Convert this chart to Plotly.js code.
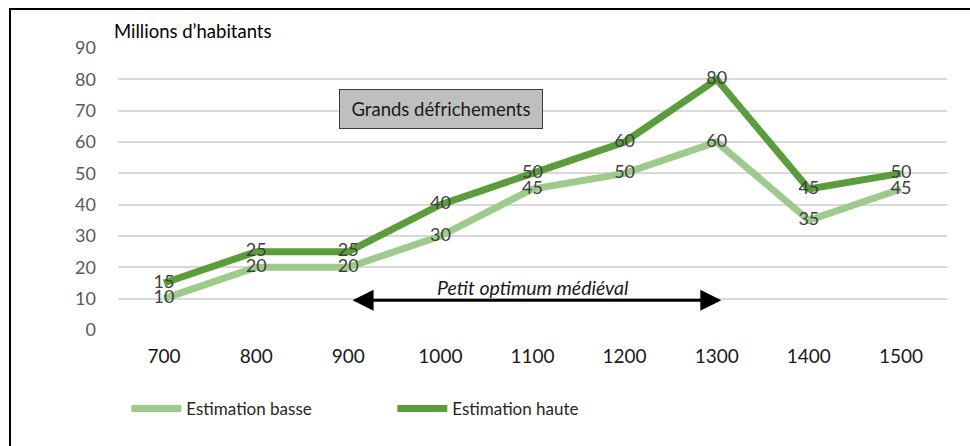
<!DOCTYPE html>
<html><head><meta charset="utf-8">
<script src="https://cdn.plot.ly/plotly-3.0.1.min.js"></script>
<style>
body{margin:0;padding:0;background:#fff;}
#wrap{position:relative;width:970px;height:446px;overflow:hidden;}
#chart{width:970px;height:446px;}
#frame{position:absolute;left:9px;top:8px;width:980px;height:460px;border-left:2px solid #000;border-top:2px solid #000;pointer-events:none;}
</style>
</head><body>
<div id="wrap"><div id="chart"></div><div id="frame"></div></div>
<script>
const years = [700, 800, 900, 1000, 1100, 1200, 1300, 1400, 1500];
const basse = [10, 20, 20, 30, 45, 50, 60, 35, 45];
const haute = [15, 25, 25, 40, 50, 60, 80, 45, 50];
const seriesNames = ['Estimation basse', 'Estimation haute'];
const yTicks = [0, 10, 20, 30, 40, 50, 60, 70, 80, 90];

const FONT = 'Lato, "Open Sans", sans-serif';
const cBasse = '#9ecb8b';
const cHaute = '#5b9c3b';

const traces = [
  {x: years, y: basse, name: seriesNames[0], mode: 'lines', line: {color: cBasse, width: 7}, hoverinfo: 'skip'},
  {x: years, y: haute, name: seriesNames[1], mode: 'lines', line: {color: cHaute, width: 7}, hoverinfo: 'skip'},
  {x: years, y: basse, mode: 'text', text: basse.map(String), textposition: 'middle center',
   textfont: {family: FONT, size: 18, color: '#404040'}, showlegend: false, hoverinfo: 'skip'},
  {x: years, y: haute, mode: 'text', text: haute.map(String), textposition: 'middle center',
   textfont: {family: FONT, size: 18, color: '#404040'}, showlegend: false, hoverinfo: 'skip'}
];

const layout = {
  width: 970, height: 446,
  margin: {l: 118, r: 23, t: 48, b: 116},
  paper_bgcolor: '#fff', plot_bgcolor: '#fff',
  font: {family: FONT},
  showlegend: true,
  legend: {orientation: 'h', x: 0.01, xanchor: 'left', y: -0.28, yanchor: 'middle',
           font: {family: FONT, size: 17, color: '#262626'}, entrywidth: 201, entrywidthmode: 'pixels',
           itemwidth: 50, bgcolor: 'rgba(0,0,0,0)'},
  xaxis: {range: [650, 1550], tickvals: years, ticktext: years.map(String), showgrid: false, zeroline: false,
          showline: false, ticks: '', ticklabelstandoff: 13,
          tickfont: {family: FONT, size: 19, color: '#1a1a1a'}, fixedrange: true},
  yaxis: {range: [0, 90], tickvals: yTicks, showgrid: true, gridcolor: '#d9d9d9', gridwidth: 2,
          zeroline: false, showline: false, ticks: '', ticklabelstandoff: 21,
          tickfont: {family: FONT, size: 18, color: '#595959'}, fixedrange: true},
  annotations: [
    {xref: 'paper', yref: 'paper', x: -0.007, y: 1.0, xanchor: 'left', yanchor: 'bottom', yshift: 4,
     text: 'Millions d\u2019habitants', showarrow: false, font: {family: FONT, size: 18.5, color: '#000'}},
    {xref: 'paper', yref: 'paper', x: 0.2669, y: 0.784, xanchor: 'left', yanchor: 'middle',
     text: 'Grands défrichements', showarrow: false, width: 202, height: 38,
     bgcolor: '#bfbfbf', bordercolor: '#3a3a3a', borderwidth: 1, borderpad: 0,
     font: {family: FONT, size: 18.5, color: '#1a1a1a'}},
    {x: 1305, y: 9.5, ax: 903, ay: 9.5, xref: 'x', yref: 'y', axref: 'x', ayref: 'y',
     text: '', showarrow: true, arrowside: 'end+start', arrowhead: 2, arrowsize: 1.4, arrowwidth: 3, arrowcolor: '#000'},
    {x: 1100, y: 9.5, xref: 'x', yref: 'y', yanchor: 'bottom', yshift: -1,
     text: '<i>Petit optimum médiéval</i>', showarrow: false, font: {family: FONT, size: 19.5, color: '#1a1a1a'}}
  ]
};

Plotly.newPlot('chart', traces, layout, {displayModeBar: false, staticPlot: true});
</script>
</body></html>
